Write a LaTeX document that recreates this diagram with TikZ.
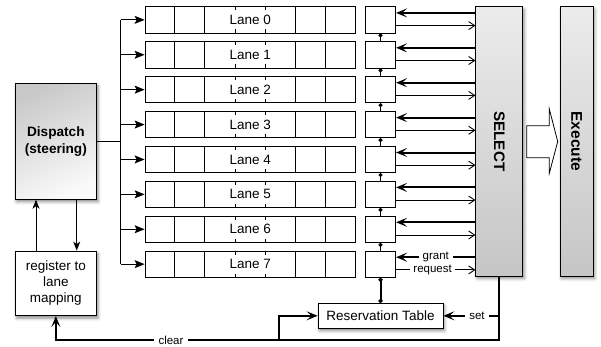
\documentclass[tikz,border=0pt]{standalone}
\usepackage{fontspec}
\setmainfont{Liberation Sans}
\usetikzlibrary{arrows.meta,shadows.blur,calc}
\begin{document}
\begin{tikzpicture}[x=1pt,y=-1pt,
  lbl/.style={font=\fontsize{13.5}{16}\selectfont},
  small/.style={font=\fontsize{11.5}{13}\selectfont, inner sep=0pt, inner xsep=3pt},
  box/.style={draw=black, line width=0.8pt, inner sep=0pt},
  shad/.style={blur shadow={shadow xshift=1.5pt, shadow yshift=-2.5pt, shadow blur radius=3pt, shadow opacity=45}},
  lanebox/.style={box, minimum width=210.7pt, minimum height=26.3pt},
  cellline/.style={line width=0.8pt},
  lanelbl/.style={lbl, fill=white, inner sep=0pt, minimum height=19pt},
  slotbox/.style={box, minimum width=30.4pt, minimum height=26.3pt},
  grbox/.style={box, top color=gray!15, bottom color=gray!45, shad},
  feed/.style={line width=1pt, -{Stealth[length=10pt,width=8pt,inset=2pt]}},
  grant/.style={line width=2pt, -{Stealth[length=11pt,width=9pt,inset=5pt]}},
  req/.style={line width=0.9pt, -{Straight Barb[length=6pt,width=8pt]}},
  chainl/.style={line width=1pt, {Circle[length=4pt]}-},
  thk/.style={line width=2pt},
  thkarrow/.style={line width=2pt, -{Stealth[length=11pt,width=9pt,inset=5pt]}},
  thinarrow/.style={line width=1pt, -{Stealth[length=9pt,width=7pt,inset=2.5pt]}}
]
\useasboundingbox (0,0) rectangle (601,346);

% lanes and slot boxes
\foreach \i in {0,...,7} {
  \pgfmathsetmacro\cy{19.85+34.9*\i}
  \node[lanebox] (L\i) at (250.35,\cy) {};
  \foreach \k in {1,...,6}
    \draw[cellline] ($(L\i.north west)+(30.1*\k,0)$) -- ($(L\i.south west)+(30.1*\k,0)$);
  \node[lanelbl] (T\i) at (L\i.center) {Lane \i};
  \node[slotbox] (S\i) at (380.5,\cy) {};
}

% SELECT and Execute
\node[grbox, minimum width=47pt, minimum height=269.3pt] (sel) at (499.35,141.35) {};
\node[rotate=-90, font=\bfseries\fontsize{15.2}{18}\selectfont] (selt) at (sel.center) {SELECT};
\node[grbox, minimum width=33.3pt, minimum height=269.3pt] (exe) at (576.65,141.35) {};
\node[rotate=-90, font=\bfseries\fontsize{15.5}{18}\selectfont] (exet) at (exe.center) {Execute};

% big hollow arrow
\draw[line width=0.8pt, fill=white] (526.7,125.7) -- (549.3,125.7) -- (549.3,109) -- (557.7,141.5)
  -- (549.3,173.3) -- (549.3,157.7) -- (526.7,157.7) -- cycle;

% grant / request
\foreach \i in {0,...,7} {
  \path (S\i.north east) ++(0,6.6) coordinate (g\i);
  \path (S\i.north east) ++(0,19.3) coordinate (r\i);
}
\foreach \i in {0,...,6} {
  \draw[grant] (g\i -| sel.west) -- (g\i);
  \draw[req] (r\i) -- (r\i -| sel.west);
}
\draw[grant] (g7 -| sel.west) -- node[small, fill=white, inner xsep=4pt] (gl) {grant} (g7);
\draw[req] (r7) -- node[small, fill=white, pos=0.46] (rl) {request} (r7 -| sel.west);

% chain between slots
\foreach \i [evaluate=\i as \j using int(\i+1)] in {0,...,6}
  \draw[chainl] (S\i.south) -- (S\j.north);

% reservation table
\node[box, fill=white, shad, lbl, minimum width=125pt, minimum height=25pt] (res) at (380.5,315.8) {Reservation Table};
\draw[thk, {Circle[length=4pt]}-{Circle[length=4pt]}] (S7.south) -- (res.north);

% dispatch and register
\node[box, top color=gray!42, bottom color=gray!4, shading angle=25, shad, align=center,
      font=\bfseries\fontsize{13.6}{16.6}\selectfont, minimum width=81.7pt, minimum height=116pt] (disp) at (55.85,141.3) {Dispatch\\(steering)};
\node[box, fill=white, shad, lbl, align=center, minimum width=81.7pt, minimum height=64.7pt] (reg) at (55.85,283.35) {register to\\lane\\mapping};
\draw[thinarrow] ([xshift=-19.85pt]reg.north) -- ([xshift=-19.85pt]disp.south);
\draw[thinarrow] ([xshift=20.85pt]disp.south) -- ([xshift=20.85pt]reg.north);

% dispatch bus
\coordinate (bus) at (120.7,0);
\draw[line width=1pt] (disp.east) -- (disp.east -| bus);
\draw[line width=1pt] (bus |- L0.west) -- (bus |- L7.west);
\foreach \i in {0,...,7}
  \draw[feed] (bus |- L\i.west) -- (L\i.west);

% bottom feedback paths
\coordinate (bot) at (0,340);
\draw[thkarrow] (sel.south) |- (bot -| reg.south) -- (reg.south);
\node[small, fill=white, inner xsep=5pt, minimum height=8pt] (clr) at (171,340) {clear};
\coordinate (br) at (279,340);
\draw[thkarrow] (br) |- (res.west);
\coordinate (st) at (sel.south |- res.east);
\draw[thkarrow] (st) -- node[small, fill=white, pos=0.4, inner xsep=4pt] (setl) {set} (res.east);
\end{tikzpicture}
\end{document}
